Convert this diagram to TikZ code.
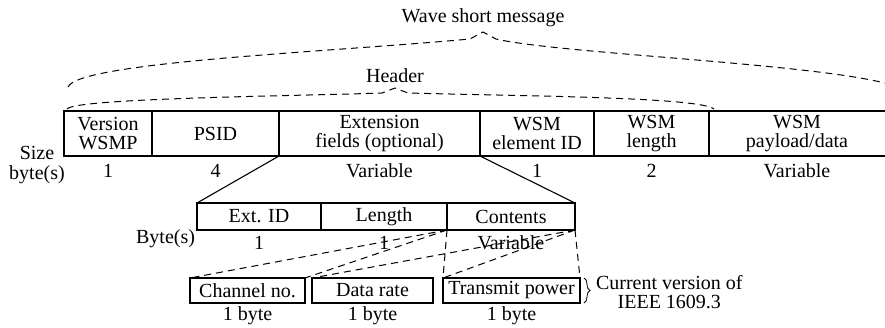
\documentclass[tikz,border=0pt]{standalone}
\usepackage{fontspec}
\setmainfont{Liberation Serif}
\usetikzlibrary{positioning,decorations.pathreplacing}
\begin{document}
\begin{tikzpicture}[
        x=1pt, y=-1pt,
        line width=1.1pt,
        every node/.style={font=\fontsize{20}{18.5}\selectfont, inner sep=0pt, outer sep=0pt},
        field/.style={draw, minimum height=45pt, align=center},
        subfield/.style={draw, minimum height=27pt},
        item/.style={draw, minimum height=25pt},
        bytes/.style={anchor=base},
        fan/.style={line width=1pt, dash pattern=on 7pt off 5pt},
    ]
    \useasboundingbox (0,0) rectangle (885,327);

    % wave short message fields
    \node[field, minimum width=88pt] (ver) at (108,133.5) {Version\\WSMP};
    \node[field, minimum width=127pt, right=0pt of ver] (psid) {PSID};
    \node[field, minimum width=201pt, right=0pt of psid] (ext) {Extension\\fields (optional)};
    \node[field, minimum width=114pt, right=0pt of ext] (eid) {WSM\\element ID};
    \node[field, minimum width=115pt, right=0pt of eid] (len) {WSM\\length};
    \node[field, draw=none, minimum width=176pt, right=0pt of len] (pay) {WSM\\payload/data};
    \draw (pay.north west) -- (pay.north east) (pay.south west) -- (pay.south east);

    \node[align=center] (sizelbl) at (37,165) {Size\\[2pt]byte(s)};
    \node[bytes] (ver-n) at (ver.center |- 0,177) {1};
    \node[bytes] (psid-n) at (psid.center |- 0,177) {4};
    \node[bytes] (ext-n) at (ext.center |- 0,177) {Variable};
    \node[bytes] (eid-n) at (eid.center |- 0,177) {1};
    \node[bytes] (len-n) at (len.center |- 0,177) {2};
    \node[bytes] (pay-n) at (pay.center |- 0,177) {Variable};

    % braces
    \node[bytes] (wsm) at (483,22) {Wave short message};
    \node[bytes] (hdr) at (395,82) {Header};
    \coordinate (wsm-l) at (68,87);
    \coordinate (wsm-t) at (483,32);
    \coordinate (wsm-r) at (895,86);
    \coordinate (hdr-l) at (67,109);
    \coordinate (hdr-t) at (395,88);
    \coordinate (hdr-r) at (714,109);
    \draw[fan] (wsm-l) .. controls (78,62) and (330,52) .. (470,39) -- (wsm-t)
        -- (496,39) .. controls (560,54) and (830,64) .. (wsm-r);
    \draw[fan] (hdr-l) .. controls (75,98) and (300,96) .. (382,93) -- (hdr-t)
        -- (408,93) .. controls (520,96) and (700,97) .. (hdr-r);

    % extension fields
    \node[subfield, minimum width=124pt] (xid) at (259,216.5) {Ext. ID};
    \node[subfield, minimum width=126pt, right=0pt of xid] (xlen) {Length};
    \node[subfield, minimum width=128pt, right=0pt of xlen] (cont) {Contents};
    \draw (ext.south west) -- (xid.north west) (ext.south east) -- (cont.north east);

    \node[anchor=base east] (bytelbl) at (195,243) {Byte(s)};
    \node[bytes] (xid-n) at (xid.center |- 0,249) {1};
    \node[bytes] (xlen-n) at (xlen.center |- 0,249) {1};
    \node[bytes] (cont-n) at (cont.center |- 0,249) {Variable};

    % contents
    \node[item, minimum width=115pt] (chan) at (247.5,290.5) {Channel no.};
    \node[item, minimum width=121pt] (rate) at (372.5,290.5) {Data rate};
    \node[item, minimum width=137pt] (txp) at (511.5,290.5) {Transmit power};
    \node[bytes] (chan-n) at (chan.center |- 0,320) {1 byte};
    \node[bytes] (rate-n) at (rate.center |- 0,320) {1 byte};
    \node[bytes] (txp-n) at (txp.center |- 0,320) {1 byte};

    \draw[fan] (cont.south west) -- (chan.north west)
        (cont.south west) -- (chan.north east)
        (cont.south east) -- (rate.north west)
        (cont.south west) -- (txp.north west)
        (cont.south east) -- (txp.north west)
        (cont.south east) -- (txp.north east);

    \draw[line width=0.8pt, decorate, decoration={brace, amplitude=6pt}]
        ([xshift=4pt]txp.north east) -- ([xshift=4pt]txp.south east);
    \node[align=center, anchor=west] (cur) at (596,292) {Current version of\\IEEE 1609.3};
\end{tikzpicture}
\end{document}
